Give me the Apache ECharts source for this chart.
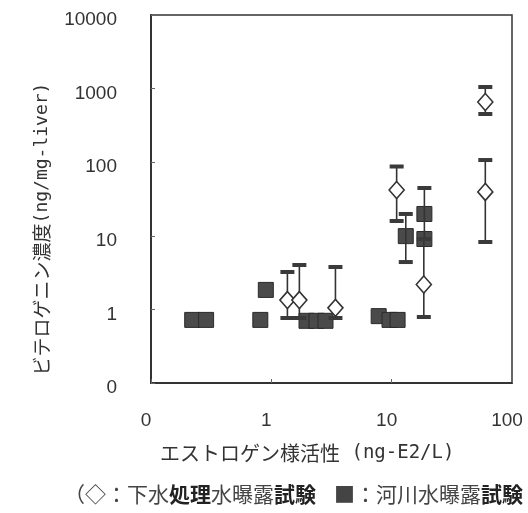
<!DOCTYPE html>
<html>
<head>
<meta charset="utf-8">
<script src="https://cdn.jsdelivr.net/npm/echarts@6/dist/echarts.min.js"></script>
<style>
  html, body { margin: 0; padding: 0; background: #fff; }
  #c { width: 528px; height: 513px; }
</style>
</head>
<body>
<div id="c"></div>
<script>
// 河川水曝露試験 (■): estrogen-like activity vs vitellogenin, with error ranges
const riverX    = [0.22, 0.287, 0.81, 0.90, 1.96, 2.37, 2.82, 7.8, 9.6, 11.2, 13.1, 18.7, 18.7];
const riverY    = [0.72, 0.72, 0.72, 1.84, 0.70, 0.70, 0.70, 0.81, 0.72, 0.72, 9.9, 19.8, 9.05];
const riverLow  = [null, null, null, null, null, null, null, null, null, null, 4.4, 9.05, null];
const riverHigh = [null, null, null, null, null, null, null, null, null, null, 19.8, 44.6, null];

// 下水処理水曝露試験 (◇)
const sewageX    = [1.36, 1.71, 3.41, 11.0, 18.5, 60, 60];
const sewageY    = [1.34, 1.34, 1.05, 41.9, 2.18, 39.4, 658];
const sewageLow  = [0.764, 0.764, 0.764, 15.9, 0.788, 8.24, 452];
const sewageHigh = [3.22, 4.01, 3.77, 87.4, 9.05, 107, 1051];

// Axis tick labels (decades)
const xTickValues = [0.1, 1, 10, 100];
const xTickLabels = ['0', '1', '10', '100'];
const yTickValues = [0.1, 1, 10, 100, 1000, 10000];
const yTickLabels = ['0', '1', '10', '100', '1000', '10000'];

const numFont = '"Liberation Sans", Arial, sans-serif';
const jpFont = '"Noto Sans CJK JP", sans-serif';
const monoFont = '"DejaVu Sans Mono", monospace';
const ink = '#333';

function tickLabel(values, labels) {
  return function (v) {
    for (let i = 0; i < values.length; i++) {
      if (Math.abs(Math.log10(v) - Math.log10(values[i])) < 1e-6) return labels[i];
    }
    return '';
  };
}

function zip(xs, ys) { return xs.map((x, i) => [x, ys[i]]); }
function errData(xs, lo, hi) {
  const out = [];
  xs.forEach((x, i) => { if (lo[i] != null || hi[i] != null) out.push([x, lo[i], hi[i]]); });
  return out;
}

// Vertical error bar with thick end caps
function renderErr(params, api) {
  const x = api.value(0), lo = api.value(1), hi = api.value(2);
  const pLo = api.coord([x, lo]);
  const pHi = api.coord([x, hi]);
  const capW = 14, capH = 4;
  return {
    type: 'group',
    children: [
      { type: 'line', shape: { x1: pLo[0], y1: pLo[1], x2: pHi[0], y2: pHi[1] },
        style: { stroke: ink, lineWidth: 1.6 } },
      { type: 'rect', shape: { x: pHi[0] - capW / 2, y: pHi[1] - capH / 2, width: capW, height: capH },
        style: { fill: '#3a3a3a' } },
      { type: 'rect', shape: { x: pLo[0] - capW / 2, y: pLo[1] - capH / 2, width: capW, height: capH },
        style: { fill: '#3a3a3a' } }
    ]
  };
}

const chart = echarts.init(document.getElementById('c'), null, { renderer: 'canvas' });
chart.setOption({
  animation: false,
  grid: { left: 151, right: 16, top: 15, bottom: 130, show: true, borderColor: ink, borderWidth: 1.5 },
  xAxis: {
    type: 'log', logBase: 10, min: 0.1, max: 100,
    axisLine: { show: true, lineStyle: { color: ink, width: 2 } },
    axisTick: { show: true, inside: true, length: 4, lineStyle: { color: '#666' } },
    splitLine: { show: false },
    axisLabel: {
      formatter: tickLabel(xTickValues, xTickLabels),
      fontFamily: numFont, fontSize: 19, color: ink, margin: 28, padding: [0, 10, 0, 0]
    }
  },
  yAxis: {
    type: 'log', logBase: 10, min: 0.1, max: 10000,
    axisLine: { show: true, lineStyle: { color: ink, width: 2 } },
    axisTick: { show: true, inside: true, length: 4, lineStyle: { color: '#666' } },
    splitLine: { show: false },
    axisLabel: {
      formatter: tickLabel(yTickValues, yTickLabels),
      fontFamily: numFont, fontSize: 19, color: ink, margin: 34,
      verticalAlign: 'top', lineHeight: 10
    }
  },
  graphic: [
    {
      type: 'text', x: 42, y: 229, rotation: Math.PI / 2,
      style: {
        text: '{j|ビテロゲニン濃度}{l|(ng/mg-liver)}',
        align: 'center', verticalAlign: 'middle',
        rich: {
          j: { fontFamily: jpFont, fontSize: 19, fill: ink },
          l: { fontFamily: monoFont, fontSize: 18, fill: ink }
        }
      }
    },
    {
      type: 'text', x: 160, y: 453,
      style: {
        text: '{j|エストロゲン様活性}{l| (ng-E2/L)}',
        align: 'left', verticalAlign: 'middle',
        rich: {
          j: { fontFamily: jpFont, fontSize: 20, fill: ink },
          l: { fontFamily: monoFont, fontSize: 19, fill: ink }
        }
      }
    },
    {
      type: 'text', x: 64, y: 494,
      style: {
        text: '{n|（◇：下水}{b|処理}{n|水曝露}{b|試験}',
        align: 'left', verticalAlign: 'middle',
        rich: {
          n: { fontFamily: jpFont, fontSize: 21, fill: '#444' },
          b: { fontFamily: jpFont, fontSize: 21, fill: '#222', fontWeight: 'bold' }
        }
      }
    },
    {
      type: 'text', x: 334, y: 494,
      style: {
        text: '{n|■：河川水曝露}{b|試験}',
        align: 'left', verticalAlign: 'middle',
        rich: {
          n: { fontFamily: jpFont, fontSize: 21, fill: '#444' },
          b: { fontFamily: jpFont, fontSize: 21, fill: '#222', fontWeight: 'bold' }
        }
      }
    }
  ],
  series: [
    {
      name: '河川水曝露試験', type: 'scatter', z: 2,
      symbol: 'rect', symbolSize: [15, 15],
      itemStyle: { color: '#4a4a4a', borderColor: '#2a2a2a', borderWidth: 1, opacity: 1 },
      data: zip(riverX, riverY)
    },
    {
      name: '河川水誤差', type: 'custom', z: 3,
      renderItem: renderErr,
      data: errData(riverX, riverLow, riverHigh)
    },
    {
      name: '下水処理水誤差', type: 'custom', z: 3,
      renderItem: renderErr,
      data: errData(sewageX, sewageLow, sewageHigh)
    },
    {
      name: '下水処理水曝露試験', type: 'scatter', z: 4,
      symbol: 'diamond', symbolSize: [15, 17],
      itemStyle: { color: '#fff', borderColor: ink, borderWidth: 1.6, opacity: 1 },
      data: zip(sewageX, sewageY)
    }
  ]
});
</script>
</body>
</html>
